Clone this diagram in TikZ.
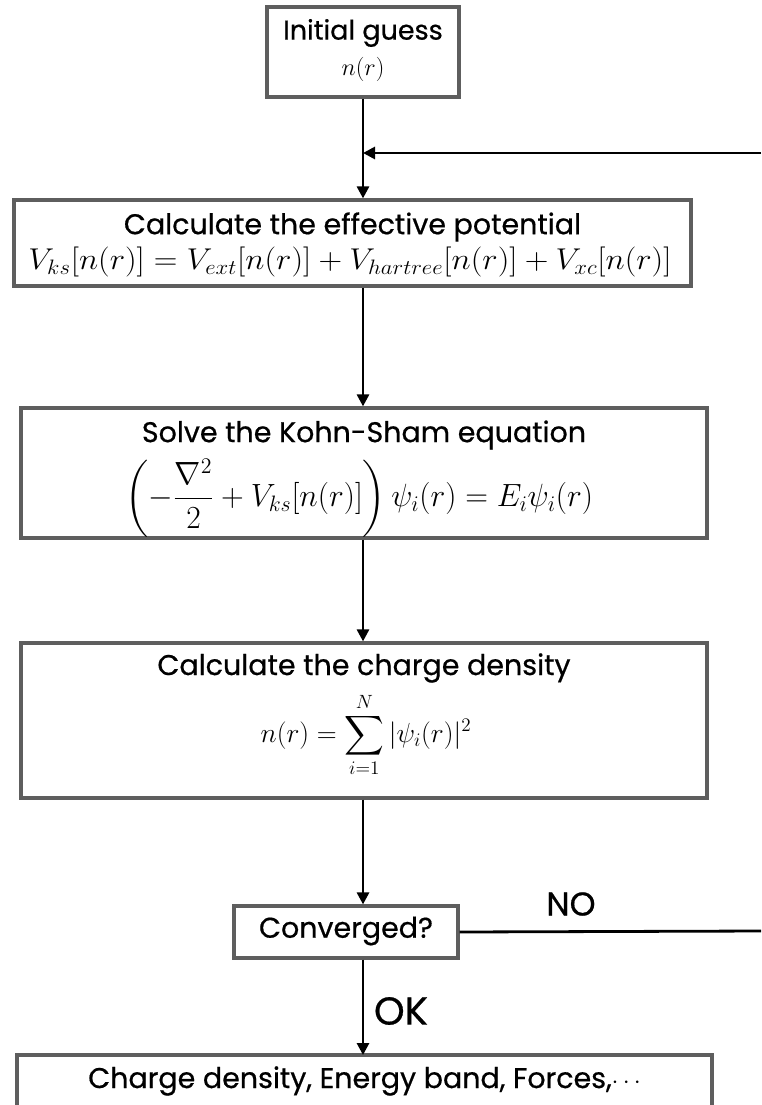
\documentclass[tikz,border=0pt]{standalone}
\usepackage{amsmath}
\usepackage{graphicx}
\usepackage{fontspec}
\setmainfont{Poppins}[UprightFeatures={FakeBold=0.6}]
\usetikzlibrary{arrows.meta}
\definecolor{boxgray}{HTML}{5E5E5E}
\begin{document}
\begin{tikzpicture}[x=1pt,y=-1pt,
  box/.style={draw=boxgray,line width=3.2pt,fill=white,inner sep=0pt},
  ttl/.style={inner sep=0pt,font=\fontsize{28.5}{30}\selectfont},
  mth/.style={inner sep=0pt,font=\fontsize{22}{26}\selectfont},
  flow/.style={line width=2.8pt,-{Triangle[length=12pt,width=12pt]}},
  lbl/.style={font=\fontsize{33}{36}\selectfont,inner sep=0pt}]
\useasboundingbox (0,0) rectangle (761,1105);
% boxes
\node[box,minimum width=192pt,minimum height=90pt] (init) at (363,52) {};
\node[box,minimum width=677pt,minimum height=86pt] (pot) at (352.5,243) {};
\node[box,minimum width=686pt,minimum height=130pt] (ks) at (364,473) {};
\node[box,minimum width=686pt,minimum height=155pt] (rho) at (364,720.5) {};
\node[box,minimum width=224pt,minimum height=52pt] (conv) at (346,932) {};
% texts
\node[ttl,font=\fontsize{27}{30}\selectfont] (initT) at (363,33) {Initial guess};
\node[mth] (initM) at (363,69) {\scalebox{1.17}{\(n(r)\)}};
\node[ttl] (potT) at (352.5,227) {Calculate the effective potential};
\node[mth] (potM) at (350,262)
  {\scalebox{1.58}[1.45]{\(V_{ks}[n(r)]=V_{ext}[n(r)]+V_{hartree}[n(r)]+V_{xc}[n(r)]\)}};
\node[ttl] (ksT) at (364,435) {Solve the Kohn-Sham equation};
\node[mth] (ksM) at (359,498)
  {\scalebox{1.52}[1.55]{\(\displaystyle\left(-\frac{\nabla^2}{2}+V_{ks}[n(r)]\right)\psi_i(r)=E_i\psi_i(r)\)}};
\node[ttl] (rhoT) at (364,668) {Calculate the charge density};
\node[mth] (rhoM) at (366,735)
  {\scalebox{1.33}{\(\displaystyle n(r)=\sum_{i=1}^{N}|\psi_i(r)|^2\)}};
\node[ttl] (convT) at (346,931) {Converged?};
% result box (cut by the page edge)
\draw[draw=boxgray,line width=3.2pt] (17,1112) -- (17,1055) -- (712,1055) -- (712,1112);
\node[ttl] (res) at (364.5,1081) {Charge density, Energy band, Forces,\(\cdots\)};
\coordinate (fbR) at (761,153);
\coordinate (noR) at (761,931);
\coordinate (fbJ) at (363,153);
\coordinate (resTop) at (363,1055);
% connectors
\draw[line width=2.8pt] (init.south -| fbJ) -- (fbJ);
\draw[flow] (fbR) -- (fbJ);
\draw[flow] (fbJ) -- (pot.north -| fbJ);
\draw[flow] (pot.south -| fbJ) -- (ks.north -| fbJ);
\draw[flow] (ks.south -| fbJ) -- (rho.north -| fbJ);
\draw[flow] (rho.south -| fbJ) -- (conv.north -| fbJ);
\draw[flow] (conv.south -| fbJ) -- (resTop);
\draw[line width=2.8pt] (conv.east) -- (noR);
\node[lbl] (no) at (571,904) {NO};
\node[lbl,font=\fontsize{39}{42}\selectfont] (ok) at (401,1011) {OK};
\end{tikzpicture}
\end{document}
